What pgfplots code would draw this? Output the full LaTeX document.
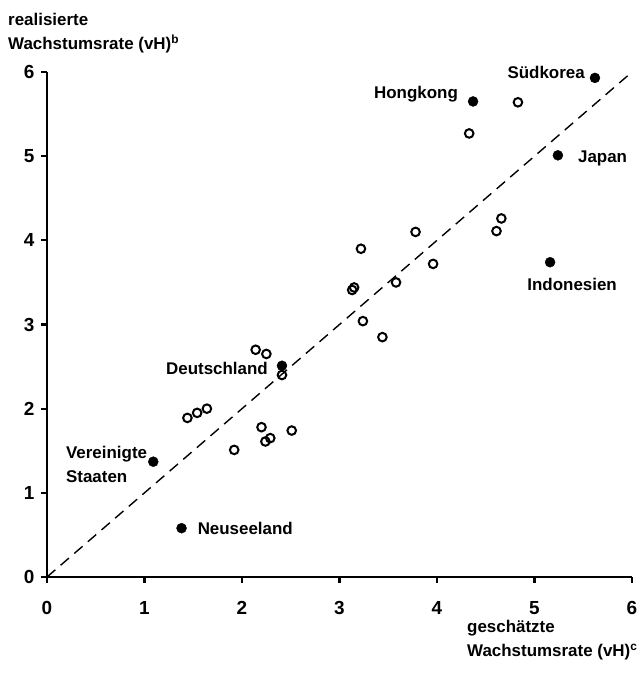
\documentclass[border=0pt]{standalone}
\usepackage{fontspec}
\setmainfont{Liberation Sans}
\usepackage{pgfplots}
\pgfplotsset{compat=1.18}

\begin{document}
\begin{tikzpicture}[font=\fontsize{17}{24}\selectfont\bfseries]
\begin{axis}[
    scale only axis,
    width=585bp, height=505bp,
    xmin=0, xmax=6, ymin=0, ymax=6,
    axis x line=bottom, axis y line=left,
    axis line style={-, line width=2.8bp},
    xtick={0,...,6}, ytick={0,...,6},
    tick align=outside,
    major tick length=6bp,
    tick style={line width=2.2bp, black},
    tick label style={font=\fontsize{19}{22}\selectfont\bfseries},
    xticklabel style={yshift=-15bp},
    yticklabel style={xshift=-3bp},
    /pgf/number format/assume math mode=true,
    clip=false,
]
\coordinate (O) at (rel axis cs:0,0);
\coordinate (T) at (rel axis cs:1,1);
\coordinate (TL) at (rel axis cs:0,1);

% 45-degree line
\addplot[black, line width=1.4bp, dash pattern=on 11bp off 7bp] coordinates {(0,0) (6,6)};

% other countries (open)
\addplot[only marks, mark=o, mark size=4.3bp, mark options={line width=2bp, black}] coordinates {
    (4.83,5.64) (4.33,5.27) (3.78,4.10) (3.22,3.90) (4.66,4.26) (4.61,4.11)
    (3.96,3.72) (3.58,3.50) (3.15,3.44) (3.13,3.41) (3.24,3.04) (3.44,2.85)
    (2.14,2.70) (2.25,2.65) (2.41,2.40) (1.44,1.89) (1.54,1.95) (1.64,2.00)
    (1.92,1.51) (2.20,1.78) (2.24,1.61) (2.29,1.65) (2.51,1.74)
};

% named countries (filled)
\addplot[only marks, mark=*, mark size=5bp, mark options={black, fill=black}] coordinates {
    (5.62,5.93) (4.37,5.65) (5.24,5.01) (5.16,3.74) (2.41,2.51) (1.09,1.37) (1.38,0.58)
};

\node[anchor=east, inner sep=0pt] at ([shift={(-10bp,5bp)}]axis cs:5.62,5.93) {Südkorea};
\node[anchor=east, inner sep=0pt] at ([shift={(-15bp,7bp)}]axis cs:4.37,5.65) {Hongkong};
\node[anchor=west, inner sep=0pt] at ([shift={(20bp,-3bp)}]axis cs:5.24,5.01) {Japan};
\node[anchor=north, inner sep=0pt] at ([shift={(22bp,-16bp)}]axis cs:5.16,3.74) {Indonesien};
\node[anchor=east, inner sep=0pt] at ([shift={(-14bp,-3bp)}]axis cs:2.41,2.51) {Deutschland};
\node[anchor=east, inner sep=0pt, align=left] at ([shift={(-6bp,-3bp)}]axis cs:1.09,1.37) {Vereinigte\\Staaten};
\node[anchor=west, inner sep=0pt] at ([shift={(16bp,0bp)}]axis cs:1.38,0.58) {Neuseeland};
\end{axis}

\node[anchor=north west, inner sep=0pt, align=left] at ([shift={(-39bp,59bp)}]TL) {realisierte\\Wachstumsrate (vH)\textsuperscript{b}};
\node[anchor=north west, inner sep=0pt, align=left] at ([shift={(420bp,-43bp)}]O) {geschätzte\\Wachstumsrate (vH)\textsuperscript{c}};

\pgfresetboundingbox
\path[use as bounding box] ([shift={(-47bp,-97bp)}]O) rectangle ([shift={(8bp,72bp)}]T);
\end{tikzpicture}
\end{document}
